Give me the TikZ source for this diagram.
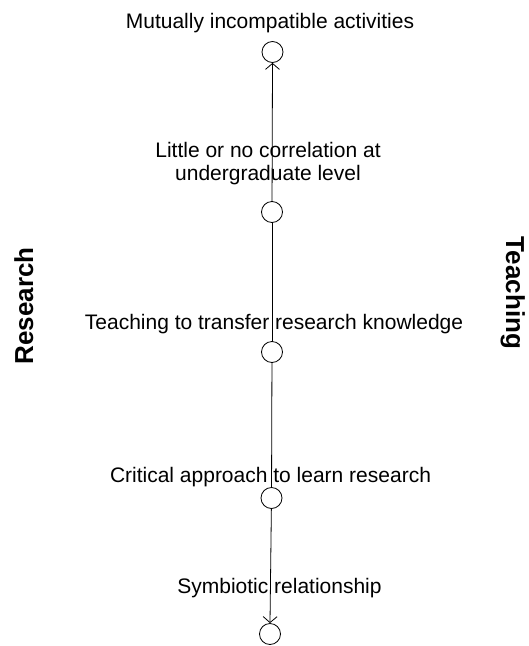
\documentclass[tikz,border=0pt]{standalone}
\usepackage{fontspec}
\setmainfont{Liberation Sans}
\usetikzlibrary{arrows.meta}

\begin{document}
\begin{tikzpicture}[x=1pt,y=-1pt,
	stage/.style={circle, draw, fill=white, line width=0.8pt, minimum size=21pt, inner sep=0pt},
	label/.style={font=\fontsize{21}{23}\selectfont, inner sep=0pt, align=center},
	side/.style={font=\fontsize{26}{28}\selectfont\bfseries, inner sep=0pt},
	link/.style={line width=0.8pt},
	tip/.style={link, -{Straight Barb[length=6pt, width=14pt, line width=0.8pt]}}]
	\useasboundingbox (0,0) rectangle (529,646);
		\node[stage] (A) at (272.5,52) {};
		\node[stage] (B) at (272,212) {};
		\node[stage] (C) at (272,352) {};
		\node[stage] (D) at (271.5,498) {};
		\node[stage] (E) at (270,634) {};
	% texts of the stages
		\node[label, anchor=base] (tA) at (270,28) {Mutually incompatible activities};
		\node[label] (tB) at (268,163.5) {Little or no correlation at\\undergraduate level};
		\node[label, anchor=base] (tC) at (274,329) {Teaching to transfer research knowledge};
		\node[label, anchor=base] (tD) at (270.5,482) {Critical approach to learn research};
		\node[label, anchor=base] (tE) at (279.5,593) {Symbiotic relationship};
		\node[side, rotate=90, anchor=base] (res) at (33,306) {Research};
		\node[side, rotate=-90, anchor=base] (tea) at (506,293) {Teaching};
	% the axis
		\draw[link] (C) -- (B);
		\draw[tip] (B) -- (A.south);
		\draw[link] (C) -- (D);
		\draw[tip] (D) -- (E.north);
	\end{tikzpicture}
\end{document}
